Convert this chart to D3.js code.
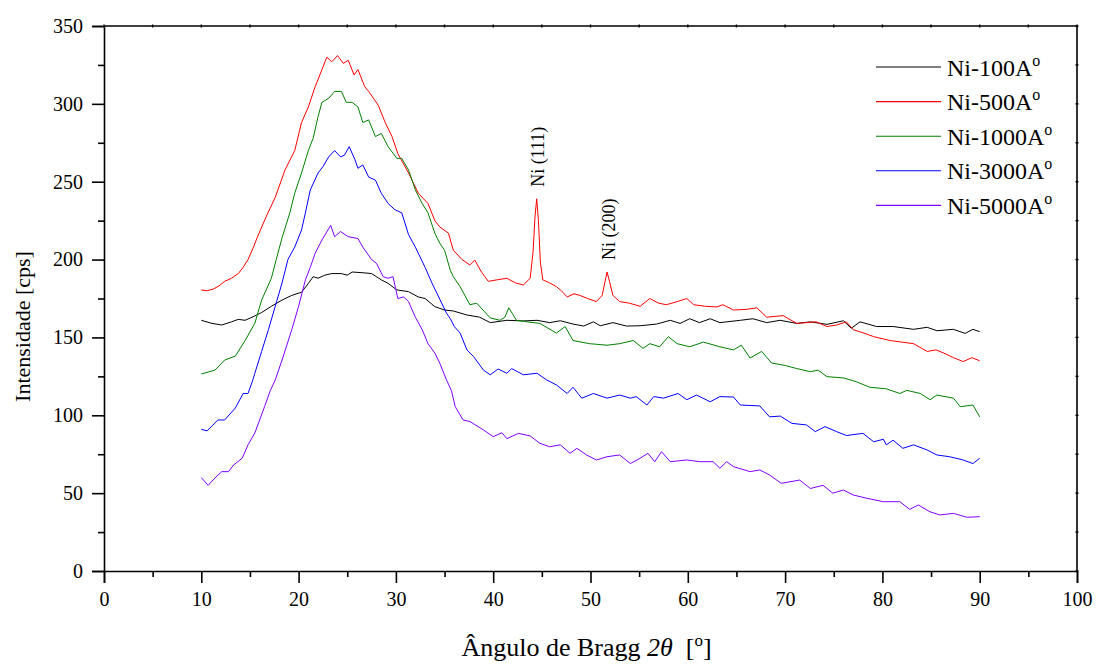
<!DOCTYPE html>
<html>
<head>
<meta charset="utf-8">
<script src="https://cdn.jsdelivr.net/npm/d3@7/dist/d3.min.js"></script>
<style>
  html, body { margin: 0; padding: 0; background: #fff; }
  #chart, #chart text { font-family: "Liberation Serif", "DejaVu Serif", serif !important; fill: #000; }
</style>
</head>
<body>
<svg id="chart" width="1097" height="664"></svg>
<script>
// ---- Data (2θ in degrees, intensity in cps) ----
const seriesNames = ["Ni-100A", "Ni-500A", "Ni-1000A", "Ni-3000A", "Ni-5000A"];
const seriesColors = ["#000000", "#ff0000", "#008000", "#0000ff", "#8000ff"];

const ni100 = [[10,161],[11.1,159],[12.1,158],[13.1,160],[13.8,161.6],[14.5,161],[15.5,163.8],[16.2,166],[17.2,170],[18.3,174],[19.3,177],[20.3,179],[21.0,184.7],[21.5,189],[22.0,188],[22.7,190],[23.4,191],[24.4,191],[25.0,190],[25.5,192],[26.5,191.6],[27.5,191],[28.5,187],[29.2,184.7],[30.1,180.5],[31.3,179.4],[32.3,176],[33.0,175],[34.0,169.8],[35.0,167.6],[35.9,167],[37.3,164.4],[38.6,163],[39.7,159.5],[41.4,161],[43.1,160.6],[44.5,161],[45.8,159.5],[46.9,160.7],[48.2,158.6],[49.3,157.3],[50.3,160],[51.0,157.5],[52.3,159.5],[53.7,157.3],[55.1,157.5],[56.8,158.6],[58.2,161],[59.2,159],[60.2,162],[61.2,159.5],[62.3,162],[63.3,159.5],[65.4,161],[66.7,162],[68.1,159.5],[69.5,161],[71.2,159],[72.6,160],[74.3,158.4],[76.0,160.7],[76.8,155.9],[77.7,160],[79.4,157],[81.1,157],[83.2,155.2],[84.6,156.5],[85.6,154.3],[87.3,155.2],[88.5,152.6],[89.3,155.2],[90,153.7]];

const ni500 = [[10,180.5],[10.6,180],[11.2,181],[11.8,183],[12.4,186],[13.1,188],[13.8,191],[14.3,195],[14.8,200],[15.3,207],[15.8,215],[16.7,228],[17.6,240],[18.6,257.5],[19.6,270],[20.3,288],[21.0,298],[21.7,311],[22.4,322],[22.9,330],[23.4,327],[24.0,331],[24.6,326],[25.1,328],[25.7,318.6],[26.1,322],[26.8,311],[27.2,308],[28.2,299],[28.9,288],[29.6,279],[30.2,268],[31.3,255.6],[32.3,242.6],[33.3,236],[34.0,225],[34.5,221],[35.4,217],[35.9,206],[36.8,200],[37.6,196.5],[38.1,199.7],[38.8,192],[39.5,186],[40.4,187],[41.4,188],[42.3,185],[43.1,183.7],[43.8,188],[44.1,205],[44.3,228],[44.47,239],[44.65,225],[44.85,198],[45.1,187],[45.8,185],[46.5,182.6],[47.0,180],[47.6,176],[48.3,178],[48.9,177],[49.7,175],[50.6,173],[51.2,177],[51.5,186],[51.7,192],[51.95,186],[52.3,177],[53.0,173],[54.0,172],[55.1,170],[56.1,175],[57.0,172],[57.8,171],[58.9,173],[59.9,175],[60.6,171],[61.8,170],[63.0,169.6],[63.6,171],[64.7,167.6],[66.0,168],[67.1,169],[68.1,163],[69.8,164],[71.2,159],[73.2,160],[74.3,157],[75.3,158],[76.3,160],[77.0,155],[78.0,153],[79.1,150.5],[80.8,148],[82.0,147],[83.2,146],[84.6,141],[85.5,142],[86.3,140],[87.3,137],[88.3,134.5],[89.2,137],[90,135]];

const ni1000 = [[10,126.5],[11.4,129],[12.4,135.5],[13.5,138],[14.5,148],[15.5,159],[16.2,174],[17.2,188],[17.7,200],[18.3,214],[19.1,230],[19.6,242.6],[20.3,255.6],[21.0,270],[21.5,278],[22.0,291.8],[22.4,301],[23.1,303.6],[23.7,308],[24.4,308],[24.9,301],[25.5,301],[26.1,298],[26.6,288],[27.2,289.7],[27.9,279],[28.5,281],[29.2,272.5],[30.1,265],[30.6,265],[31.3,257.5],[32.0,244.7],[32.7,236],[33.3,230],[34.0,217],[34.5,210.6],[35.0,206],[35.6,193],[35.9,189],[36.6,182.6],[37.6,171],[38.3,172],[39.7,162.5],[40.7,161],[41.2,163],[41.6,169],[42.4,161],[43.5,160],[44.8,159],[46.5,152.8],[47.4,157],[48.2,148],[49.9,146],[51.7,145],[53.0,146],[54.4,148],[55.4,143],[56.1,146],[57.1,144],[58.0,150.5],[58.9,146],[60.2,144],[61.6,147],[63.3,144],[64.7,142],[65.5,145],[66.4,136.8],[67.6,141],[68.6,133.6],[70.0,132],[71.2,130],[72.6,128],[73.4,129],[74.3,124.8],[76.0,124],[77.3,121.6],[78.7,118],[80.4,117],[81.8,114],[82.5,116],[83.9,114],[84.9,110],[85.6,113],[87.3,111],[88.0,105.5],[89.3,106.6],[90,99]];

const ni3000 = [[10,91],[10.6,90],[11.7,97],[12.4,97],[13.5,104.7],[14.3,114],[14.8,114],[15.3,122.7],[15.5,127],[16.2,141],[16.9,155],[17.6,170],[18.3,185],[18.9,200],[19.6,208],[20.3,219],[20.7,230],[21.2,244.7],[22.0,255.6],[22.5,259.7],[23.1,266],[23.7,270],[24.3,266],[24.7,267],[25.2,272.5],[25.8,264],[26.1,258.6],[26.6,260.8],[27.2,253],[27.9,251],[28.5,242.6],[29.2,236],[29.9,232],[30.6,230],[31.3,216],[32.0,208],[33.0,195],[33.7,185],[34.4,176],[35.2,165.6],[35.6,162],[36.0,157],[36.6,152.8],[37.3,142],[38.0,137.6],[39.0,129],[39.7,126],[40.5,129.7],[41.4,127],[41.9,130],[43.1,126],[44.5,127],[45.5,122.7],[46.5,119.5],[47.6,114],[48.2,118],[49.1,111],[50.3,114],[51.7,111],[53.0,113],[54.1,111],[54.7,112],[55.8,106.6],[56.5,112],[57.5,111],[59.0,114],[59.9,110],[60.9,113],[62.3,108.7],[63.3,112],[64.7,111.7],[65.4,106.6],[67.4,106],[68.4,99],[69.5,99.5],[70.7,94.8],[72.2,93.8],[73.1,89.5],[74.1,92.7],[75.3,89.5],[76.3,87],[78.0,88.4],[79.1,83],[80.1,84.6],[80.4,81],[81.1,84],[82.1,78.8],[83.2,81],[84.6,77.7],[85.6,74.5],[86.9,73.4],[88.3,71.3],[89.3,69],[90,72.4]];

const ni5000 = [[10,60],[10.7,55],[11.4,59.7],[12.1,63.8],[12.8,63.8],[13.3,68],[14.2,72.4],[14.8,81],[15.5,88.6],[16.0,97],[16.5,105.5],[17.1,116],[17.6,122.7],[18.3,135.5],[19.3,155],[20.0,170],[20.7,187],[21.2,195],[21.7,204],[22.4,212.6],[23.3,222],[23.7,214.7],[24.3,218],[25.1,214.7],[26.1,213.5],[26.6,208],[27.5,200],[28.0,197.6],[28.7,189],[29.2,188],[29.7,189],[30.2,175],[30.8,176],[31.3,173],[32.0,163],[32.7,155],[33.3,146],[34.0,140],[34.5,133.6],[35.2,122.7],[35.7,116],[36.1,105.5],[36.9,97],[37.6,96],[39.0,90.6],[40.0,86.3],[40.9,88.8],[41.4,85],[42.6,88.4],[43.8,86.7],[44.8,82],[45.8,79.8],[46.9,81],[47.9,75.6],[48.6,78.8],[49.6,74.5],[50.6,71.3],[51.7,73.4],[53.0,74.5],[54.1,69],[55.1,72.4],[55.9,75.6],[56.6,70.2],[57.3,76.6],[58.2,70.2],[59.9,71.3],[61.2,70.2],[62.6,70.2],[63.3,66],[64.0,70.2],[64.7,67],[66.4,63.8],[67.4,64.9],[68.4,61.7],[69.6,56.3],[71.5,58.4],[72.6,53],[73.9,55],[74.9,50],[76.0,52],[77.0,48.8],[78.4,46.7],[80.1,44.5],[81.8,44.5],[82.8,39.6],[83.7,42.4],[84.9,38],[85.9,36],[87.3,37],[88.7,34.5],[90,34.9]];

const xMajorTicks = [0,10,20,30,40,50,60,70,80,90,100];
const xMinorTicks = [5,15,25,35,45,55,65,75,85,95];
const yMajorTicks = [0,50,100,150,200,250,300,350];
const yMinorTicks = [25,75,125,175,225,275,325];

const peakLabels = [{angle: 44.4, value: 239, text: "Ni (111)"}, {angle: 51.7, value: 192, text: "Ni (200)"}];

// ---- Drawing ----
const FONT = "'Liberation Serif', 'DejaVu Serif', serif";
const svg = d3.select("#chart").attr("font-family", FONT);
const padL = 104, padR = 1077, padT = 26, padB = 571;

const x = d3.scaleLinear().domain([0, 100]).range([padL, padR]);
const y = d3.scaleLinear().domain([0, 350]).range([padB, padT]);

const allSeries = [ni100, ni500, ni1000, ni3000, ni5000];

const line = d3.line().x(d => x(d[0])).y(d => y(d[1]));

svg.append("g").selectAll("path")
  .data(allSeries)
  .join("path")
  .attr("d", d => line(d))
  .attr("fill", "none")
  .attr("stroke", (d, i) => seriesColors[i])
  .attr("stroke-width", 1)
  .attr("stroke-linejoin", "round");

// Frame (top / right)
svg.append("line").attr("x1", padL).attr("x2", padR).attr("y1", padT).attr("y2", padT)
  .attr("stroke", "#000").attr("stroke-width", 1.6);
svg.append("line").attr("x1", padR).attr("x2", padR).attr("y1", padT).attr("y2", padB)
  .attr("stroke", "#000").attr("stroke-width", 1.6);

// tiny ticks on top/right
const tinyG = svg.append("g").attr("stroke", "#000").attr("stroke-width", 1.4);
xMajorTicks.concat(xMinorTicks).forEach(t => {
  tinyG.append("line").attr("x1", x(t)).attr("x2", x(t)).attr("y1", padT - 1.5).attr("y2", padT + 1.5);
});
yMajorTicks.concat(yMinorTicks).forEach(t => {
  tinyG.append("line").attr("x1", padR - 1.5).attr("x2", padR + 1.5).attr("y1", y(t)).attr("y2", y(t));
});

function styleAxis(g) {
  g.attr("font-family", FONT).attr("font-size", 20);
  g.select(".domain").attr("stroke-width", 1.6);
  g.selectAll(".tick line").attr("stroke-width", 1.6);
  g.selectAll("text").attr("font-family", FONT).attr("font-size", 20).attr("fill", "#000");
}

// bottom axis
const xAxisG = svg.append("g").attr("transform", `translate(0,${padB})`)
  .call(d3.axisBottom(x).tickValues(xMajorTicks).tickSize(12).tickPadding(9).tickFormat(d3.format("d")));
styleAxis(xAxisG);
const xMinorG = svg.append("g").attr("transform", `translate(0,${padB})`)
  .call(d3.axisBottom(x).tickValues(xMinorTicks).tickSize(6).tickFormat(""));
xMinorG.select(".domain").remove();
xMinorG.selectAll(".tick line").attr("stroke-width", 1.6);

// left axis
const yAxisG = svg.append("g").attr("transform", `translate(${padL},0)`)
  .call(d3.axisLeft(y).tickValues(yMajorTicks).tickSize(12).tickPadding(9).tickFormat(d3.format("d")));
styleAxis(yAxisG);
const yMinorG = svg.append("g").attr("transform", `translate(${padL},0)`)
  .call(d3.axisLeft(y).tickValues(yMinorTicks).tickSize(6).tickFormat(""));
yMinorG.select(".domain").remove();
yMinorG.selectAll(".tick line").attr("stroke-width", 1.6);

// Axis titles
svg.append("text")
  .attr("transform", `translate(30,${(padT + padB) / 2 + 28}) rotate(-90)`)
  .attr("text-anchor", "middle")
  .attr("font-family", FONT)
  .attr("font-size", 22)
  .text("Intensidade [cps]");

const xt = svg.append("text")
  .attr("x", (padL + padR) / 2 - 4)
  .attr("y", 656)
  .attr("text-anchor", "middle")
  .attr("font-family", FONT)
  .attr("font-size", 26);
xt.append("tspan").text("Ângulo de Bragg ");
xt.append("tspan").attr("font-style", "italic").text("2θ");
xt.append("tspan").text("\u00a0 [");
xt.append("tspan").attr("dy", -10).attr("font-size", 17).text("o");
xt.append("tspan").attr("dy", 10).text("]");

// Peak annotations
peakLabels.forEach(p => {
  svg.append("text")
    .attr("transform", `translate(${x(p.angle) + 8},${y(p.value) - 12}) rotate(-90)`)
    .attr("text-anchor", "start")
    .attr("font-family", FONT)
    .attr("font-size", 18)
    .text(p.text);
});

// Legend
const legend = svg.append("g");
seriesNames.forEach((name, i) => {
  const ly = 67 + i * 34.6;
  legend.append("line")
    .attr("x1", 876).attr("x2", 941).attr("y1", ly).attr("y2", ly)
    .attr("stroke", seriesColors[i]).attr("stroke-width", 1.1);
  const t = legend.append("text")
    .attr("x", 947).attr("y", ly + 8.5)
    .attr("font-family", FONT)
    .attr("font-size", 24);
  t.append("tspan").text(name);
  t.append("tspan").attr("dy", -10).attr("font-size", 16).text("o");
});
</script>
</body>
</html>
